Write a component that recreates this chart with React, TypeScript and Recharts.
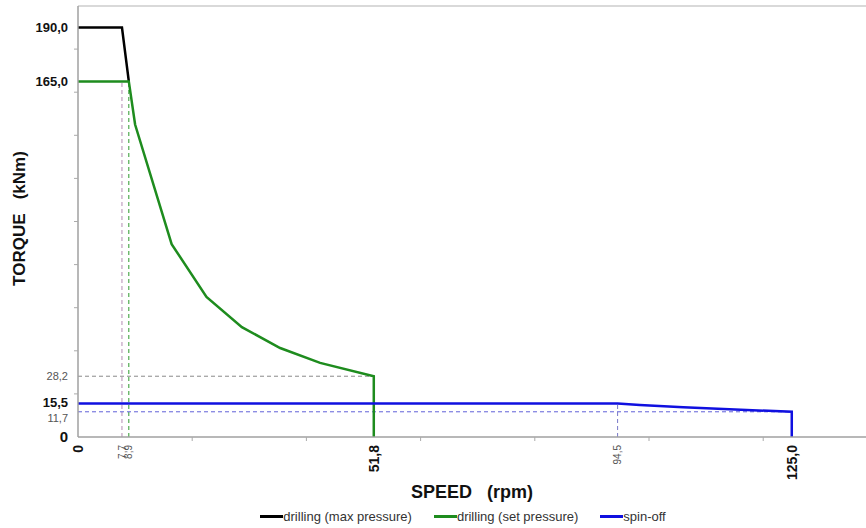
import React from 'react';
import { LineChart, Line, XAxis, YAxis, ReferenceLine, Legend, Label } from 'recharts';

const maxPressureSpeed = [0, 7.7, 8.9];
const maxPressureTorque = [190, 190, 165];
const setPressureSpeed = [0, 8.9, 10, 16.4, 22.5, 28.7, 35.4, 42.4, 51.8, 51.8];
const setPressureTorque = [165, 165, 145, 89.5, 65, 51, 41.3, 34.4, 28.2, 0];
const spinOffSpeed = [0, 94.5, 98.4, 106, 125, 125];
const spinOffTorque = [15.5, 15.5, 14.8, 13.8, 11.7, 0];

const speedLabels = [0, 7.7, 8.9, 51.8, 94.5, 125];
const speedBold = [0, 51.8, 125];
const speedMinor = [20, 40, 60, 80, 100, 120];
const torqueLabels = [0, 11.7, 15.5, 28.2, 165, 190];
const torqueBold = [0, 15.5, 165, 190];
const torqueMinor = [20, 40, 60, 80, 100, 120, 140, 160, 180];

const seriesNames = ['drilling (max pressure)', 'drilling (set pressure)', 'spin-off'];
const seriesColors = ['#000000', '#1e8c1e', '#1010e0'];

const toPoints = (xs: number[], ys: number[]) => xs.map((x, i) => ({ x, y: ys[i] }));
const maxPressureData = toPoints(maxPressureSpeed, maxPressureTorque);
const setPressureData = toPoints(setPressureSpeed, setPressureTorque);
const spinOffData = toPoints(spinOffSpeed, spinOffTorque);

const xTicks = [...speedLabels, ...speedMinor].sort((a, b) => a - b);
const yTicks = [...torqueLabels, ...torqueMinor].sort((a, b) => a - b);

const FONT = '"Liberation Sans", Arial, Helvetica, sans-serif';
const fmt = (v: number) => (v === 0 ? '0' : v.toFixed(1).replace('.', ','));

const XTick = (props: any) => {
  const { x, y, payload } = props;
  const v = payload.value;
  if (speedLabels.includes(v)) {
    const bold = speedBold.includes(v);
    return (
      <text
        x={x}
        y={y + 8}
        transform={`rotate(-90, ${x}, ${y + 8})`}
        textAnchor="end"
        dy="0.36em"
        fontFamily={FONT}
        fontSize={bold ? 14 : 10}
        fontWeight={bold ? 'bold' : 'normal'}
        fill={bold ? '#111' : '#555'}
      >
        {fmt(v)}
      </text>
    );
  }
  return <line x1={x} y1={y} x2={x} y2={y + 4} stroke="#aaa" strokeWidth={1} />;
};

const YTick = (props: any) => {
  const { x, y, payload } = props;
  const v = payload.value;
  if (torqueLabels.includes(v)) {
    const bold = torqueBold.includes(v);
    const shift = v === 11.7 ? 6 : v === 15.5 ? -1 : 0;
    return (
      <text
        x={x - 10}
        y={y + shift}
        textAnchor="end"
        dy="0.36em"
        fontFamily={FONT}
        fontSize={bold ? (v === 0 ? 15 : 13) : 11}
        fontWeight={bold ? 'bold' : 'normal'}
        fill={bold ? '#111' : '#555'}
      >
        {fmt(v)}
      </text>
    );
  }
  return <line x1={x - 4} y1={y} x2={x} y2={y} stroke="#aaa" strokeWidth={1} />;
};

const LegendContent = () => (
  <div
    style={{
      display: 'flex',
      justifyContent: 'center',
      alignItems: 'center',
      height: 24,
      paddingLeft: 60,
      fontFamily: FONT,
      fontSize: 13,
      color: '#333',
    }}
  >
    {seriesNames.map((n, i) => (
      <div key={n} style={{ display: 'flex', alignItems: 'center', marginRight: i < 2 ? 22 : 0 }}>
        <div style={{ width: 23, height: 3, background: seriesColors[i] }} />
        <span>{n}</span>
      </div>
    ))}
  </div>
);

export default function App() {
  return (
    <div style={{ width: 866, height: 528, overflow: 'hidden', background: '#fff' }}>
      <style>{`body{margin:0;}`}</style>
      <LineChart width={866} height={528} margin={{ top: 6, right: 0, left: 0, bottom: 0 }}>
        <XAxis
          dataKey="x"
          type="number"
          domain={[0, 138]}
          ticks={xTicks}
          interval={0}
          tick={<XTick />}
          tickLine={false}
          tickSize={0}
          tickMargin={0}
          height={67}
          axisLine={{ stroke: '#a0a0a0', strokeWidth: 1.5 }}
        >
          <Label
            content={(p: any) => {
              const vb = p.viewBox;
              return (
                <text
                  x={vb.x + vb.width / 2}
                  y={vb.y + 61}
                  textAnchor="middle"
                  fontFamily={FONT}
                  fontSize={18}
                  fontWeight="bold"
                  fill="#111"
                  style={{ whiteSpace: 'pre' }}
                >
                  {'SPEED   (rpm)'}
                </text>
              );
            }}
          />
        </XAxis>
        <YAxis
          dataKey="y"
          type="number"
          domain={[0, 200]}
          ticks={yTicks}
          interval={0}
          tick={<YTick />}
          tickLine={false}
          tickSize={0}
          tickMargin={0}
          width={78}
          axisLine={{ stroke: '#a0a0a0', strokeWidth: 1.5 }}
        >
          <Label
            content={(p: any) => {
              const vb = p.viewBox;
              const cy = vb.y + vb.height / 2 - 3;
              return (
                <text
                  x={19}
                  y={cy}
                  transform={`rotate(-90, 19, ${cy})`}
                  textAnchor="middle"
                  dy="0.36em"
                  fontFamily={FONT}
                  fontSize={17}
                  fontWeight="bold"
                  fill="#111"
                  style={{ whiteSpace: 'pre' }}
                >
                  {'TORQUE   (kNm)'}
                </text>
              );
            }}
          />
        </YAxis>
        <ReferenceLine y={200} stroke="#cccccc" strokeWidth={1.5} />
        <ReferenceLine segment={[{ x: 7.7, y: 0 }, { x: 7.7, y: 165 }]} stroke="#b48cb4" strokeDasharray="4 3" strokeWidth={1} />
        <ReferenceLine segment={[{ x: 8.9, y: 0 }, { x: 8.9, y: 165 }]} stroke="#2e9a2e" strokeDasharray="4 3" strokeWidth={1} />
        <ReferenceLine segment={[{ x: 0, y: 28.2 }, { x: 51.8, y: 28.2 }]} stroke="#8a8a8a" strokeDasharray="4 3" strokeWidth={1} />
        <ReferenceLine segment={[{ x: 0, y: 11.7 }, { x: 125, y: 11.7 }]} stroke="#6060d8" strokeDasharray="4 3" strokeWidth={1} />
        <ReferenceLine segment={[{ x: 94.5, y: 0 }, { x: 94.5, y: 15.5 }]} stroke="#7878c8" strokeDasharray="4 3" strokeWidth={1} />
        <Line data={maxPressureData} dataKey="y" name={seriesNames[0]} stroke={seriesColors[0]} strokeWidth={2.5} dot={false} type="linear" isAnimationActive={false} />
        <Line data={setPressureData} dataKey="y" name={seriesNames[1]} stroke={seriesColors[1]} strokeWidth={2.5} dot={false} type="linear" isAnimationActive={false} />
        <Line data={spinOffData} dataKey="y" name={seriesNames[2]} stroke={seriesColors[2]} strokeWidth={2.5} dot={false} type="linear" isAnimationActive={false} />
        <Legend
          verticalAlign="bottom"
          height={24}
          content={<LegendContent />}
          wrapperStyle={{ left: 0, width: 866, bottom: 0 }}
        />
      </LineChart>
    </div>
  );
}
